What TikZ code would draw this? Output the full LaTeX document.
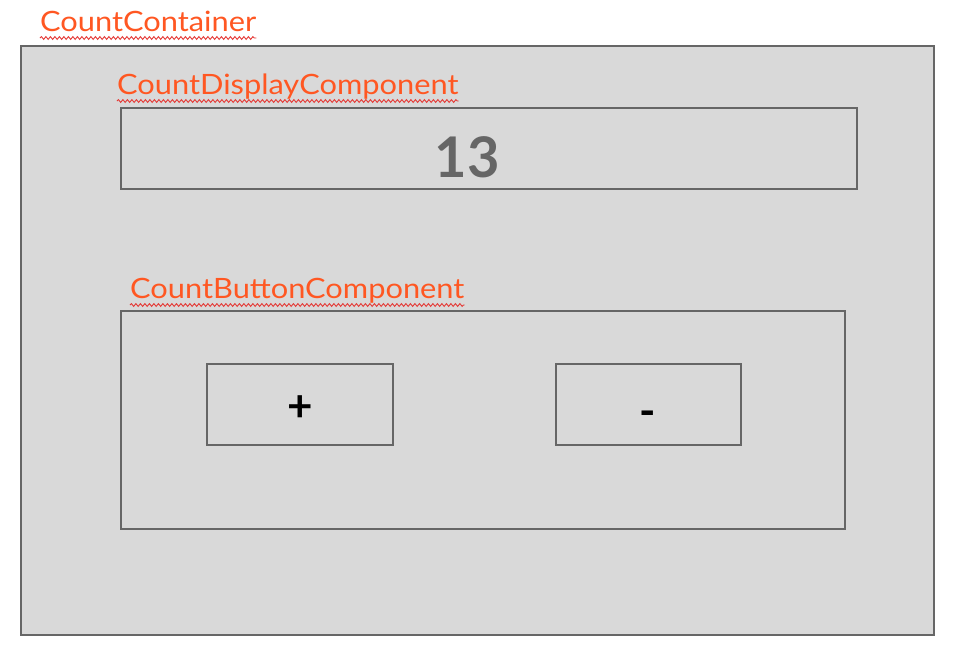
\documentclass[tikz,border=0pt]{standalone}
\usepackage{fontspec}
\setmainfont{Lato}
\newfontfamily\lblfont[FakeStretch=1.1]{Lato}
\usetikzlibrary{decorations.pathmorphing}
\definecolor{boxfill}{HTML}{D9D9D9}
\definecolor{boxline}{HTML}{666666}
\definecolor{lbl}{HTML}{FF5722}
\definecolor{squig}{HTML}{E53935}
\tikzset{
  panel/.style={draw=boxline, fill=boxfill, line width=1.5pt},
  comp/.style={text=lbl, font=\lblfont\fontsize{28}{32}\selectfont, anchor=base west, inner sep=0pt},
  squiggle/.style={draw=squig, line width=0.9pt, decorate, decoration={snake, segment length=4.5pt, amplitude=1.4pt}},
  btntext/.style={font=\fontsize{44}{48}\selectfont\bfseries, text=black}
}
\begin{document}
\begin{tikzpicture}[x=1pt,y=-1pt]
\useasboundingbox (0,0) rectangle (960,654);
\fill[white] (0,0) rectangle (960,654);
% outer container
\draw[panel] (21,46) rectangle (934,635);
% labels
\node[comp] (lc) at (40,31) {CountContainer};
\draw[squiggle] ([yshift=-7pt]lc.base west) -- ([yshift=-7pt]lc.base east);
\node[comp] (ld) at (117,94) {CountDisplayComponent};
\draw[squiggle] ([yshift=-7pt]ld.base west) -- ([yshift=-7pt]ld.base east);
\node[comp] (lb) at (130,298) {CountButtonComponent};
\draw[squiggle] ([yshift=-7pt]lb.base west) -- ([yshift=-7pt]lb.base east);
% display
\draw[panel] (121,108) rectangle (857,189);
\node[font=\fontsize{56}{60}\selectfont\bfseries, text=boxline] (num) at (467,157) {13};
% button component
\draw[panel] (121,311) rectangle (845,529);
\draw[panel] (207,364) rectangle (393,445);
\node[btntext] (plus) at (300,409) {+};
\draw[panel] (556,364) rectangle (741,445);
\node[btntext] (minus) at (648,419) {-};
\end{tikzpicture}
\end{document}
